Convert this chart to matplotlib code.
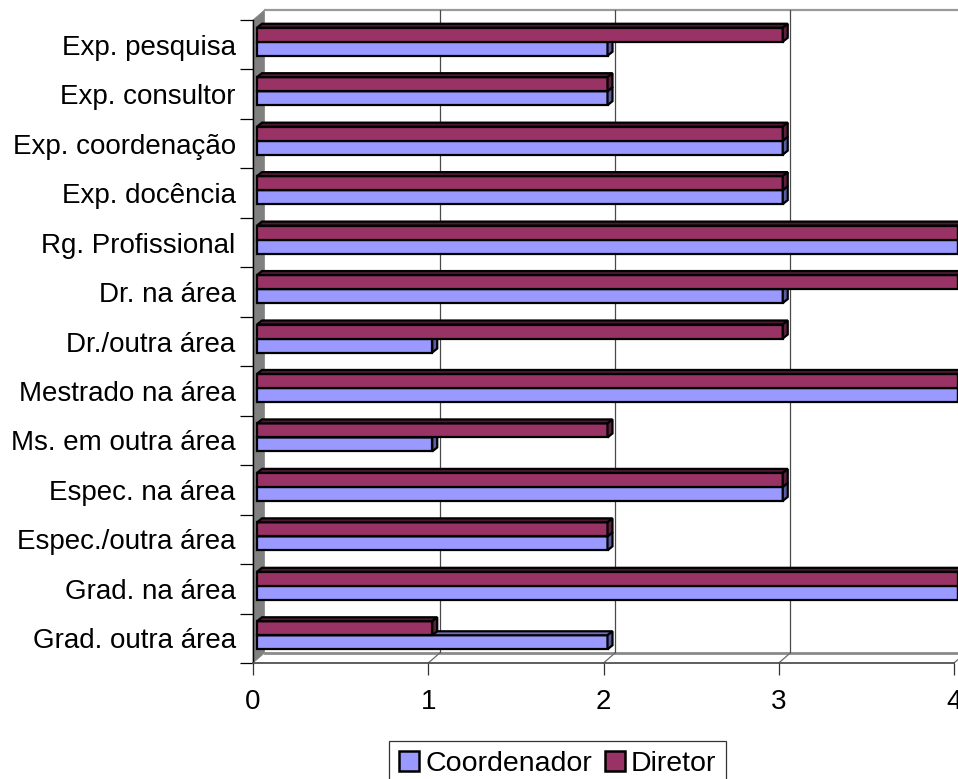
import numpy as np
import matplotlib
matplotlib.use("Agg")
import matplotlib.pyplot as plt
from matplotlib.patches import Polygon, Patch
from matplotlib.lines import Line2D

plt.rcParams['font.family'] = ['Liberation Sans', 'DejaVu Sans']

# Categories listed bottom to top
categories = [
    "Grad. outra área", "Grad. na área", "Espec./outra área", "Espec. na área",
    "Ms. em outra área", "Mestrado na área", "Dr./outra área", "Dr. na área",
    "Rg. Profissional", "Exp. docência", "Exp. coordenação", "Exp. consultor",
    "Exp. pesquisa",
]
coordenador = [2, 4, 2, 3, 1, 4, 1, 3, 4, 3, 3, 2, 2]
diretor = [1, 4, 2, 3, 2, 4, 3, 4, 4, 3, 3, 2, 3]
series_names = ["Coordenador", "Diretor"]
x_ticks = [0, 1, 2, 3, 4]

W, H = 958, 779
FS = 20
fig = plt.figure(figsize=(W / 100, H / 100), dpi=100)
fig.patch.set_facecolor("white")

n = len(categories)
XMAX = 4.0
unit_px = (954 - 253) / XMAX


def box(left_px, top_px, right_px, bottom_px):
    return [left_px / W, 1 - bottom_px / H, (right_px - left_px) / W, (bottom_px - top_px) / H]


def px_to_fig(x, y):
    return (x / W, 1 - y / H)


# Back plane (gridlines), front plane (axes frame), bar plane in between
ax_back = fig.add_axes(box(264.5, 10, 264.5 + 701, 653))
ax = fig.add_axes(box(253, 20, 954, 663))
ax_bar = fig.add_axes(box(257, 17, 958, 660))
ax_back.set_zorder(1)
ax.set_zorder(2)
ax_bar.set_zorder(3)

for a in (ax_back, ax, ax_bar):
    a.set_xlim(0, XMAX)
    a.set_ylim(-0.5, n - 0.5)
    a.patch.set_alpha(0)
    for s in a.spines.values():
        s.set_visible(False)

ax_back.set_xticks([])
ax_back.set_yticks([])
ax_bar.set_xticks([])
ax_bar.set_yticks([])

# Wall and outline of the back plane, kept behind every axes
wall = Polygon([px_to_fig(253, 20), px_to_fig(264.5, 10), px_to_fig(264.5, 653), px_to_fig(253, 663)],
               closed=True, transform=fig.transFigure, facecolor="#808080", edgecolor="#808080",
               lw=0.5, zorder=-2)
fig.patches.append(wall)
fig.lines.append(Line2D([264.5 / W, 1], [1 - 10 / H, 1 - 10 / H], transform=fig.transFigure,
                        color="#9a9a9a", lw=1.6, zorder=-1))
fig.lines.append(Line2D([264.5 / W, 1], [1 - 653 / H, 1 - 653 / H], transform=fig.transFigure,
                        color="#8a8a8a", lw=2.0, zorder=-1))

# Gridlines on the back wall
for v in x_ticks[1:]:
    ax_back.axvline(v, color="#4a4a4a", lw=0.9, zorder=1)

# Floor diagonals joining back gridlines to the front ticks
inv = fig.transFigure.inverted()
for v in x_ticks[1:]:
    p_back = inv.transform(ax_back.transData.transform((v, -0.5)))
    p_front = inv.transform(ax.transData.transform((v, -0.5)))
    fig.lines.append(Line2D([p_back[0], p_front[0]], [p_back[1], p_front[1]],
                            transform=fig.transFigure, color="#6a6a6a", lw=0.9, zorder=-1))

# Front axis frame
ax.spines["left"].set_visible(True)
ax.spines["left"].set_color("black")
ax.spines["left"].set_linewidth(1.0)
ax.spines["bottom"].set_visible(True)
ax.spines["bottom"].set_color("#505050")
ax.spines["bottom"].set_linewidth(1.3)

ax.set_xticks(x_ticks)
ax.set_xticklabels([str(t) for t in x_ticks], fontsize=FS)
ax.tick_params(axis="x", length=8.6, width=0.9, color="#333333", pad=10)
ax.set_yticks(range(n))
ax.set_yticklabels(categories, fontsize=FS)
ax.tick_params(axis="y", which="major", length=0, pad=12.5)
ax.set_yticks(np.arange(-0.5, n, 1.0), minor=True)
ax.tick_params(axis="y", which="minor", length=9.4, width=0.9, color="black")

# 3-D bars
bar_h = 14 * (n / 643)
ddx = 5 / unit_px
ddy = 4 * (n / 643)
y_pos = np.arange(n)

styles = [
    dict(face="#9999ff", top="#7070c0", side="#5c5ca3"),
    dict(face="#993366", top="#4d1a33", side="#5c1f3d"),
]
offsets = [-bar_h / 2, bar_h / 2]
EDGE = 1.6

for k, (vals, st, off) in enumerate(zip([coordenador, diretor], styles, offsets)):
    z = 3 + 3 * k
    ax_bar.barh(y_pos + off, vals, height=bar_h, color=st["face"], edgecolor="black",
                linewidth=EDGE, zorder=z, clip_on=False)
    for y, v in zip(y_pos + off, vals):
        yt = y + bar_h / 2
        yb = y - bar_h / 2
        top = Polygon([(0, yt), (v, yt), (v + ddx, yt + ddy), (ddx, yt + ddy)], closed=True,
                      facecolor=st["top"], edgecolor="black", lw=EDGE, zorder=z + 1,
                      clip_on=False, joinstyle="miter")
        side = Polygon([(v, yb), (v, yt), (v + ddx, yt + ddy), (v + ddx, yb + ddy)], closed=True,
                       facecolor=st["side"], edgecolor="black", lw=EDGE, zorder=z + 1,
                       clip_on=False, joinstyle="miter")
        ax_bar.add_patch(top)
        ax_bar.add_patch(side)

# Legend
handles = [Patch(facecolor=styles[i]["face"], edgecolor="black", linewidth=1.8, label=series_names[i])
           for i in range(2)]
leg = fig.legend(handles=handles, loc="upper center", bbox_to_anchor=(557.5 / W, 1 - 741 / H),
                 ncol=2, fontsize=FS + 0.5, frameon=True, fancybox=False, shadow=False,
                 handlelength=0.72, handleheight=0.68, handletextpad=0.2, columnspacing=0.45,
                 borderpad=0.35, borderaxespad=0)
leg.get_frame().set_edgecolor("black")
leg.get_frame().set_linewidth(0.9)

fig.savefig("out.png", dpi=100, facecolor="white")
